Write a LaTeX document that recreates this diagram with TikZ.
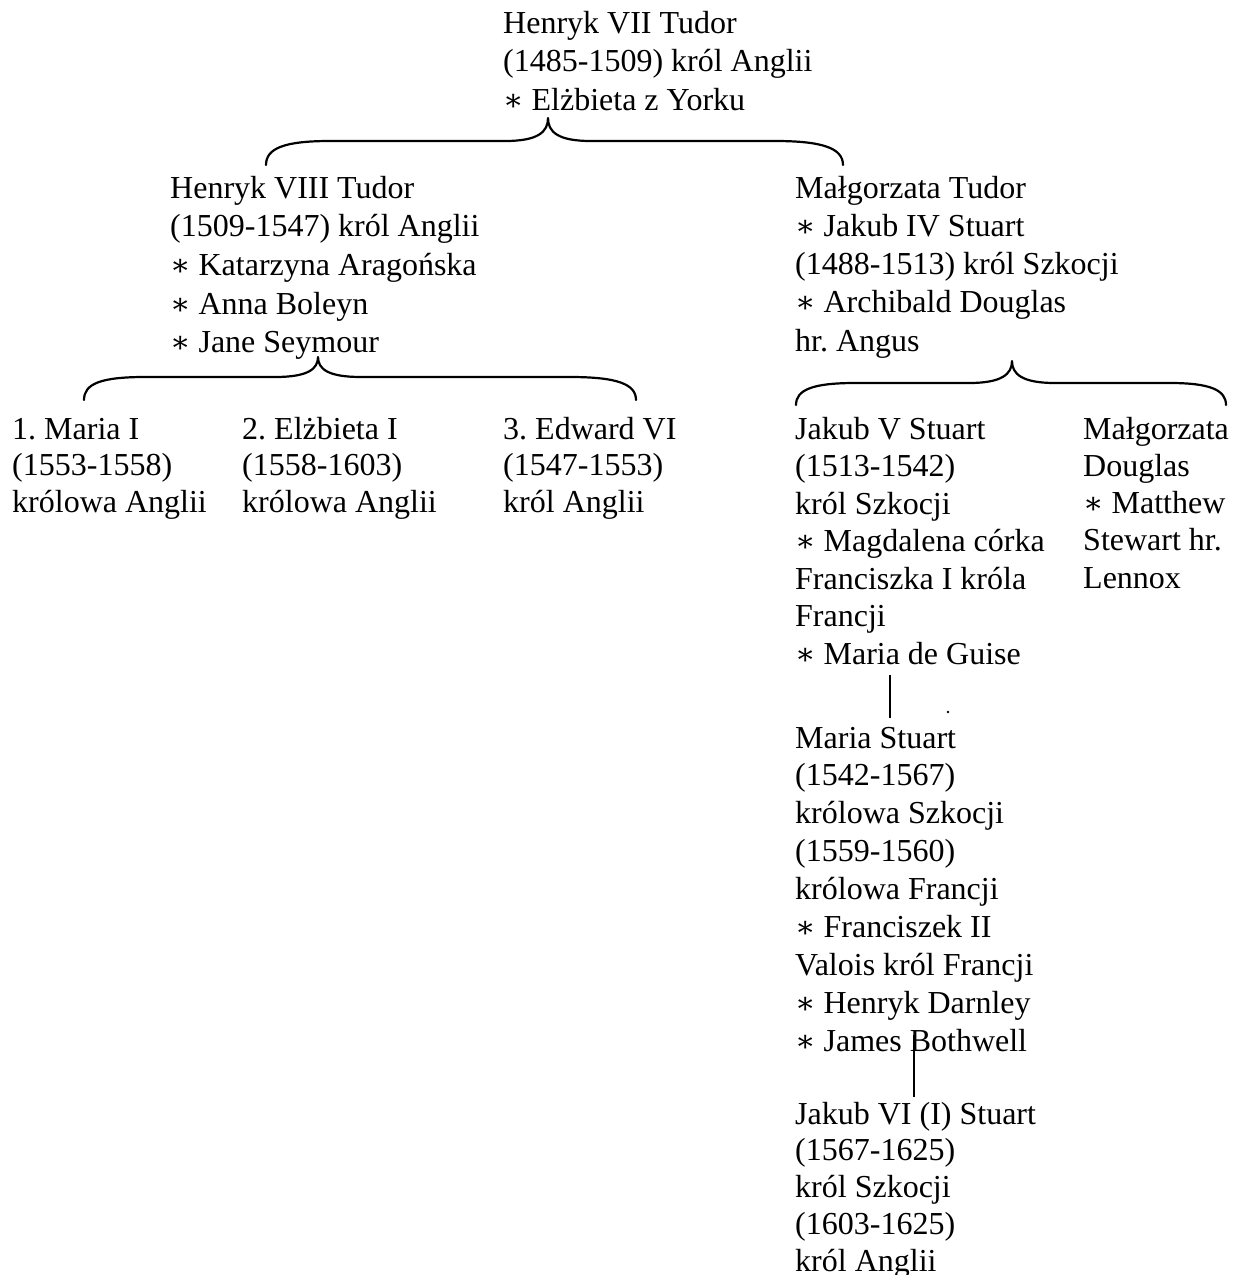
\documentclass[tikz,border=0pt]{standalone}
\usepackage{fontspec}
\setmainfont{Liberation Serif}
\newfontfamily\starfont{DejaVu Serif}
\newcommand{\gw}{{\starfont\fontsize{30}{30}\selectfont ∗}}
\frenchspacing
\begin{document}
\begin{tikzpicture}[x=1pt,y=-1pt,
  person/.style={anchor=base west,inner sep=0pt,align=left,
    font=\fontsize{32}{#1}\selectfont\frenchspacing},
  person/.default=37.7,
  brace/.style={line width=2.2pt,line cap=round,line join=round},
  link/.style={line width=2pt}]
\useasboundingbox (0,0) rectangle (1243,1275);
% anchors are at the baseline of each node's last line
\node[person=38.5] (h7) at (503,110) {Henryk VII Tudor\\(1485-1509) król Anglii\\\gw\ Elżbieta z Yorku};

\node[person=38.7] (h8) at (170,352.8) {Henryk VIII Tudor\\(1509-1547) król Anglii\\\gw\ Katarzyna Aragońska\\\gw\ Anna Boleyn\\\gw\ Jane Seymour};
\node[person=38.3] (mt) at (795,351.2) {Małgorzata Tudor\\\gw\ Jakub IV Stuart\\(1488-1513) król Szkocji\\\gw\ Archibald Douglas\\hr. Angus};

\node[person=36.5] (m1) at (12,512) {1. Maria I\\(1553-1558)\\królowa Anglii};
\node[person=36.5] (e1) at (242,512) {2. Elżbieta I\\(1558-1603)\\królowa Anglii};
\node[person=36.5] (e6) at (503,512) {3. Edward VI\\(1547-1553)\\król Anglii};

\node[person=37.5] (j5) at (795,664) {Jakub V Stuart\\(1513-1542)\\król Szkocji\\\gw\ Magdalena córka\\Franciszka I króla\\Francji\\\gw\ Maria de Guise};
\node[person=37.3] (md) at (1083,588.2) {Małgorzata\\Douglas\\\gw\ Matthew\\Stewart hr.\\Lennox};

\node[person=37.9] (ms) at (795,1051.2) {Maria Stuart\\(1542-1567)\\królowa Szkocji\\(1559-1560)\\królowa Francji\\\gw\ Franciszek II\\Valois król Francji\\\gw\ Henryk Darnley\\\gw\ James Bothwell};

\node[person=36.8] (j6) at (795,1271.2) {Jakub VI (I) Stuart\\(1567-1625)\\król Szkocji\\(1603-1625)\\król Anglii};

% braces
\coordinate (b1) at (548,118);
\draw[brace] (266,165) .. controls (266,148) and (285,141) .. (330,141)
  -- (505,141) .. controls (538,141) and (548,132) .. (b1)
  .. controls (548,132) and (558,141) .. (591,141)
  -- (775,141) .. controls (822,141) and (843,148) .. (843,165);

\coordinate (b2) at (318,357);
\draw[brace] (84,400) .. controls (84,384) and (100,377) .. (145,377)
  -- (275,377) .. controls (308,377) and (318,369) .. (b2)
  .. controls (318,369) and (328,377) .. (361,377)
  -- (570,377) .. controls (617,377) and (636,384) .. (636,400);

\coordinate (b3) at (1012,361);
\draw[brace] (796,405) .. controls (796,390) and (812,383) .. (855,383)
  -- (969,383) .. controls (1002,383) and (1012,374) .. (b3)
  .. controls (1012,374) and (1022,383) .. (1055,383)
  -- (1170,383) .. controls (1210,383) and (1226,390) .. (1226,405);

% descent lines
\coordinate (l1a) at (890,675);
\coordinate (l1b) at (890,718);
\draw[link] (l1a) -- (l1b);
\coordinate (l2a) at (914,1035);
\coordinate (l2b) at (914,1097);
\draw[link] (l2a) -- (l2b);
\fill (948,712) circle (1.3pt);
\end{tikzpicture}
\end{document}
